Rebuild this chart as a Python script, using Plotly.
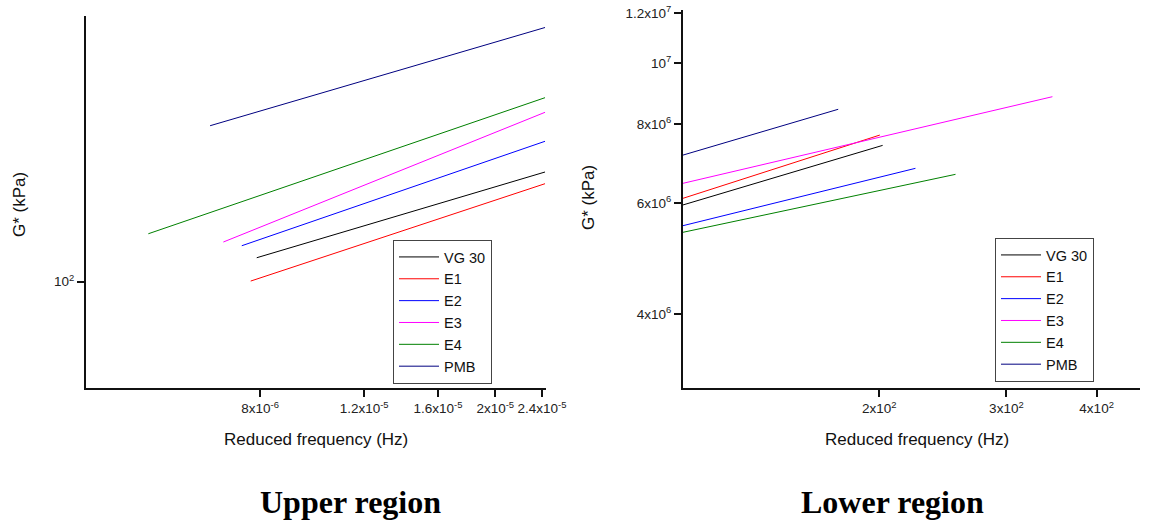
import plotly.graph_objects as go

# ---------------- data: Upper region (left panel) ----------------
series_names = ["VG 30", "E1", "E2", "E3", "E4", "PMB"]
series_colors = ["#000000", "#FF0000", "#0000FF", "#FF00FF", "#008000", "#000080"]

up_vg30_x = [7.897e-6, 1.148e-5, 1.670e-5, 2.428e-5]
up_vg30_y = [120.2, 149.7, 186.4, 232.1]
up_e1_x = [7.714e-6, 1.131e-5, 1.657e-5, 2.428e-5]
up_e1_y = [100.5, 129.0, 165.4, 212.2]
up_e2_x = [7.450e-6, 1.105e-5, 1.638e-5, 2.428e-5]
up_e2_y = [131.8, 172.2, 224.9, 293.8]
up_e3_x = [6.934e-6, 1.053e-5, 1.599e-5, 2.428e-5]
up_e3_y = [135.6, 189.0, 263.5, 367.0]
up_e4_x = [5.177e-6, 8.666e-6, 1.451e-5, 2.428e-5]
up_e4_y = [144.5, 204.7, 289.9, 410.6]
up_pmb_x = [6.585e-6, 1.017e-5, 1.572e-5, 2.428e-5]
up_pmb_y = [331.1, 425.8, 547.3, 703.6]

# ---------------- data: Lower region (right panel) ----------------
lo_vg30_x = [107.0, 132.3, 163.6, 202.2]
lo_vg30_y = [5.959e6, 6.408e6, 6.889e6, 7.408e6]
lo_e1_x = [107.0, 131.9, 162.6, 200.4]
lo_e1_y = [6.105e6, 6.595e6, 7.122e6, 7.693e6]
lo_e2_x = [107.0, 137.0, 175.4, 224.5]
lo_e2_y = [5.524e6, 5.925e6, 6.353e6, 6.812e6]
lo_e3_x = [107.0, 158.5, 234.6, 347.4]
lo_e3_y = [6.449e6, 7.165e6, 7.964e6, 8.851e6]
lo_e4_x = [107.0, 142.9, 191.0, 255.1]
lo_e4_y = [5.392e6, 5.787e6, 6.211e6, 6.664e6]
lo_pmb_x = [107.0, 126.2, 148.9, 175.5]
lo_pmb_y = [7.150e6, 7.560e6, 7.993e6, 8.453e6]

# ---------------- tick labels ----------------
up_xtick_vals = [8e-6, 1.2e-5, 1.6e-5, 2e-5, 2.4e-5]
up_xtick_text = ["8x10<sup>-6</sup>", "1.2x10<sup>-5</sup>", "1.6x10<sup>-5</sup>",
                 "2x10<sup>-5</sup>", "2.4x10<sup>-5</sup>"]
up_ytick_vals = [100]
up_ytick_text = ["10<sup>2</sup>"]
lo_xtick_vals = [200, 300, 400]
lo_xtick_text = ["2x10<sup>2</sup>", "3x10<sup>2</sup>", "4x10<sup>2</sup>"]
lo_ytick_vals = [4e6, 6e6, 8e6, 1e7, 1.2e7]
lo_ytick_text = ["4x10<sup>6</sup>", "6x10<sup>6</sup>", "8x10<sup>6</sup>",
                 "10<sup>7</sup>", "1.2x10<sup>7</sup>"]

upper = [(up_vg30_x, up_vg30_y), (up_e1_x, up_e1_y), (up_e2_x, up_e2_y),
         (up_e3_x, up_e3_y), (up_e4_x, up_e4_y), (up_pmb_x, up_pmb_y)]
lower = [(lo_vg30_x, lo_vg30_y), (lo_e1_x, lo_e1_y), (lo_e2_x, lo_e2_y),
         (lo_e3_x, lo_e3_y), (lo_e4_x, lo_e4_y), (lo_pmb_x, lo_pmb_y)]

FONT = "Arial, Liberation Sans, sans-serif"
SERIF = "Times New Roman, Liberation Serif, serif"

fig = go.Figure()
for name, color, (x, y) in zip(series_names, series_colors, upper):
    fig.add_trace(go.Scatter(x=x, y=y, mode="lines", name=name,
                             line=dict(color=color, width=1),
                             xaxis="x", yaxis="y", legend="legend"))
for name, color, (x, y) in zip(series_names, series_colors, lower):
    fig.add_trace(go.Scatter(x=x, y=y, mode="lines", name=name,
                             line=dict(color=color, width=1),
                             xaxis="x2", yaxis="y2", legend="legend2"))

W, H = 1156, 522
axis_common = dict(type="log", showgrid=False, zeroline=False, showline=True,
                   automargin=False,
                   linecolor="#111", linewidth=2, ticks="outside", ticklen=7,
                   tickwidth=1.5, tickcolor="#111",
                   tickfont=dict(family=FONT, size=13.5, color="#222"))

legend_common = dict(xanchor="left", yanchor="top", bgcolor="white",
                     bordercolor="#444", borderwidth=1, itemwidth=40,
                     font=dict(family=FONT, size=14.5, color="#111"), tracegroupgap=0)

fig.update_layout(
    width=W, height=H, autosize=False,
    margin=dict(l=0, r=0, t=0, b=0, pad=0, autoexpand=False),
    paper_bgcolor="white", plot_bgcolor="white",
    font=dict(family=FONT, color="#111"),
    xaxis=dict(axis_common, domain=[86 / W, 546 / W], range=[-5.3914, -4.6131],
               tickvals=up_xtick_vals, ticktext=up_xtick_text, anchor="y"),
    yaxis=dict(axis_common, domain=[1 - 388 / H, 1 - 16 / H], range=[1.6457, 2.8857],
               tickvals=up_ytick_vals, ticktext=up_ytick_text, anchor="x"),
    xaxis2=dict(axis_common, domain=[683 / W, 1140 / W], range=[2.0294, 2.6621],
                tickvals=lo_xtick_vals, ticktext=lo_xtick_text, anchor="y2"),
    yaxis2=dict(axis_common, domain=[1 - 388 / H, 1 - 10 / H], range=[6.4846, 7.0846],
                tickvals=lo_ytick_vals, ticktext=lo_ytick_text, anchor="x2"),
    legend=dict(legend_common, x=393 / W, y=1 - 240 / H),
    legend2=dict(legend_common, x=995 / W, y=1 - 238 / H),
    showlegend=True,
)

annos = [
    dict(text="Reduced frequency (Hz)", x=316 / W, y=1 - 439 / H, textangle=0, size=17),
    dict(text="Reduced frequency (Hz)", x=917 / W, y=1 - 439 / H, textangle=0, size=17),
    dict(text="G* (kPa)", x=19 / W, y=1 - 205 / H, textangle=-90, size=17),
    dict(text="G* (kPa)", x=588 / W, y=1 - 198 / H, textangle=-90, size=17),
]
for a in annos:
    fig.add_annotation(text=a["text"], x=a["x"], y=a["y"], xref="paper", yref="paper",
                       xanchor="center", yanchor="middle", showarrow=False,
                       textangle=a["textangle"],
                       font=dict(family=FONT, size=a["size"], color="#111"))

for txt, xc in [("<b>Upper region</b>", 350 / W), ("<b>Lower region</b>", 892 / W)]:
    fig.add_annotation(text=txt, x=xc, y=1 - 502 / H, xref="paper", yref="paper",
                       xanchor="center", yanchor="middle", showarrow=False,
                       font=dict(family=SERIF, size=32, color="#000"))

fig.write_html("out.html", config={"displayModeBar": False},
               post_script="document.body.style.margin='0';document.body.style.overflow='hidden';")
